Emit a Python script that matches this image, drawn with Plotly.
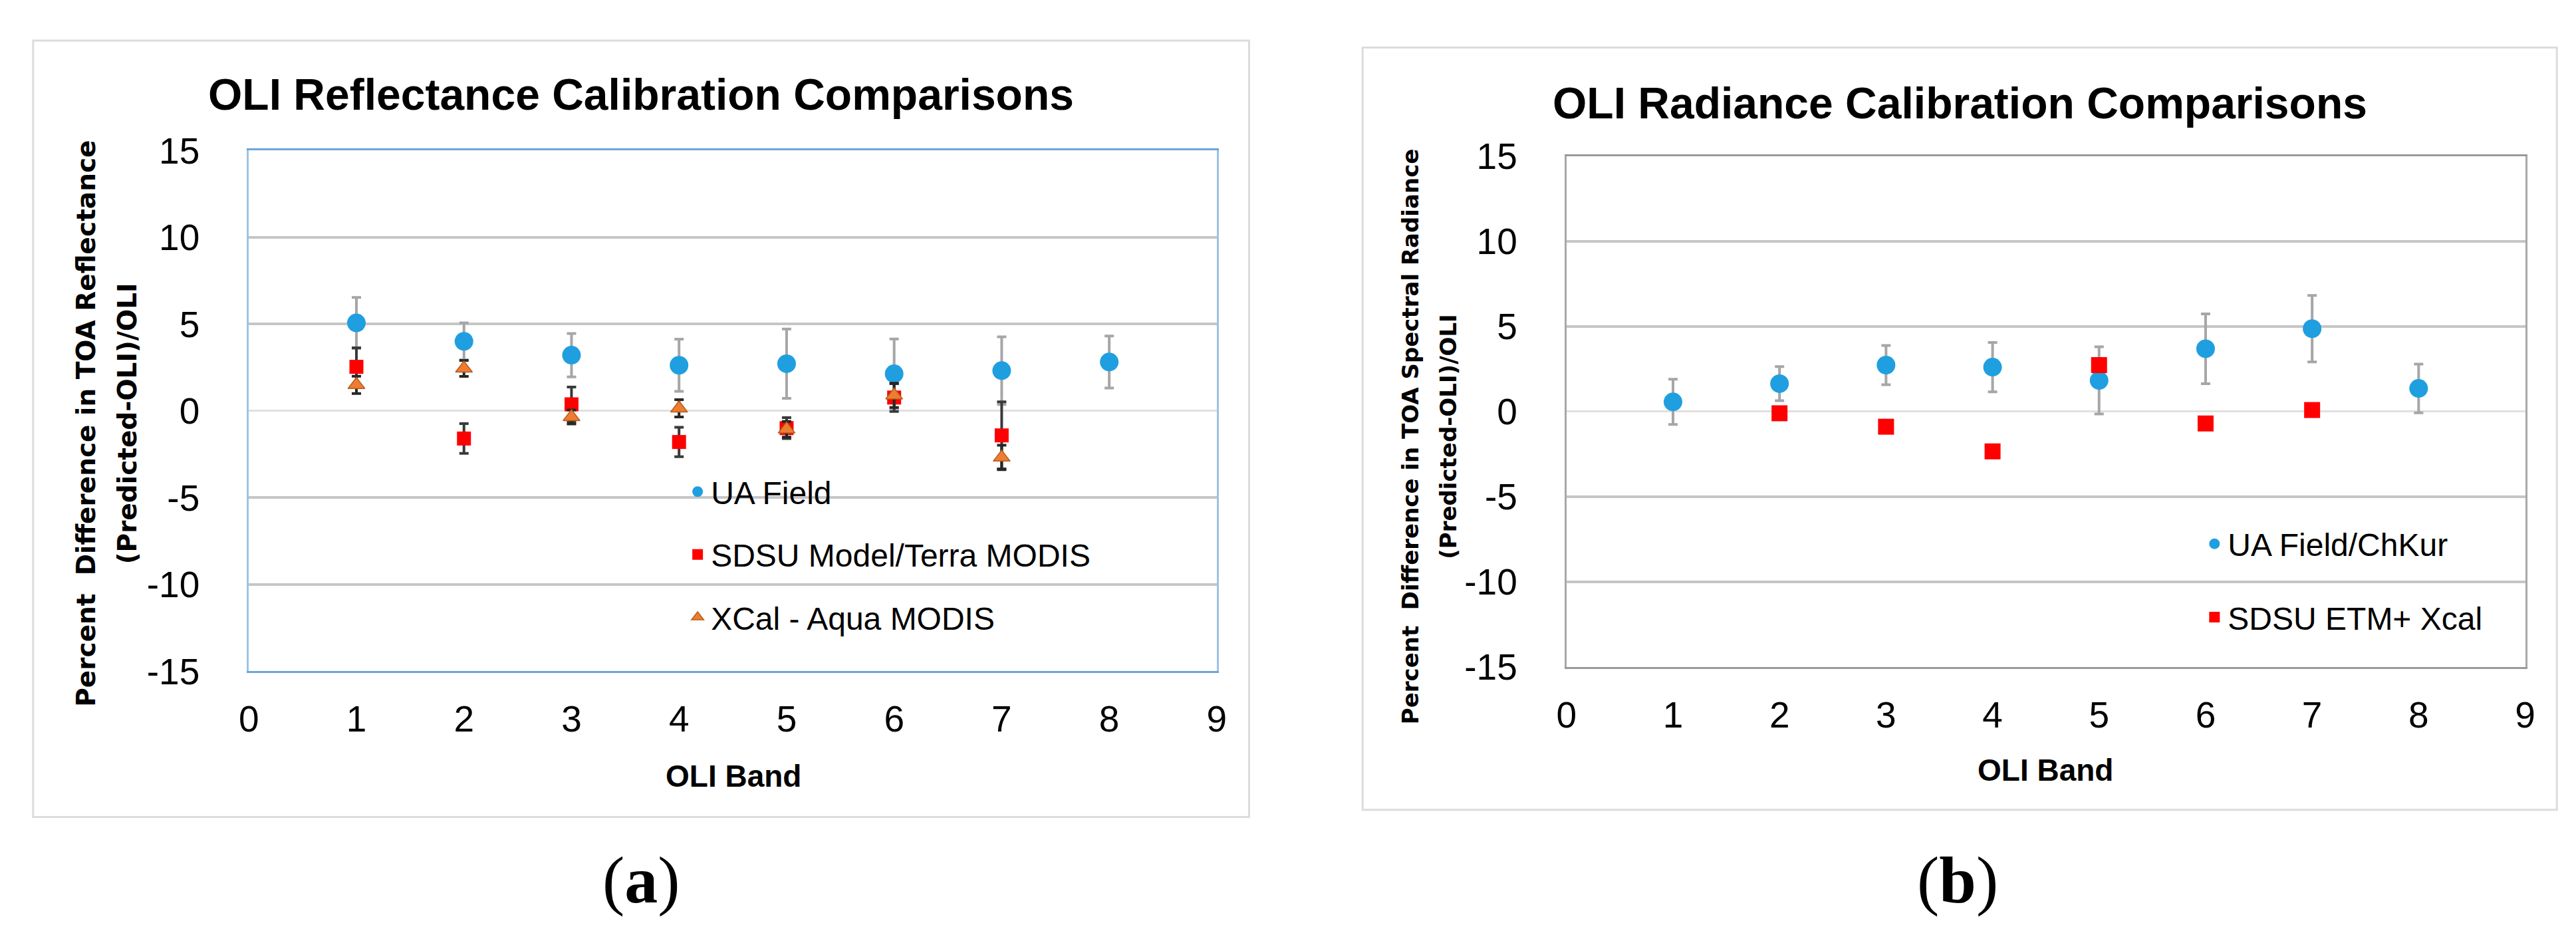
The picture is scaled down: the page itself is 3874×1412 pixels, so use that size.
import plotly.graph_objects as go

W, H = 3874, 1412

# OLI bands
bands = [1, 2, 3, 4, 5, 6, 7, 8]
bands_refl_other = [1, 2, 3, 4, 5, 6, 7]
bands_rad_sdsu = [2, 3, 4, 5, 6, 7]

# (a) reflectance comparisons, percent difference
ua_refl = [5.07, 4.01, 3.21, 2.63, 2.72, 2.14, 2.32, 2.82]
ua_refl_err = [1.47, 1.06, 1.25, 1.5, 2.0, 2.0, 1.95, 1.5]
sdsu_refl = [2.54, -1.59, 0.38, -1.79, -0.99, 0.77, -1.41]
sdsu_refl_err = [1.1, 0.86, 1.0, 0.85, 0.6, 0.8, 1.93]
xcal_refl = [1.5, 2.45, -0.35, 0.15, -1.06, 0.9, -2.68]
xcal_refl_err = [0.5, 0.46, 0.4, 0.5, 0.45, 0.7, 0.7]

# (b) radiance comparisons, percent difference
ua_rad = [0.57, 1.64, 2.73, 2.61, 1.83, 3.69, 4.87, 1.36]
ua_rad_err = [1.33, 1.0, 1.15, 1.45, 1.97, 2.05, 1.95, 1.43]
sdsu_rad = [-0.1, -0.89, -2.34, 2.73, -0.7, 0.09]

x_ticks = list(range(0, 10))
y_ticks = [-15, -10, -5, 0, 5, 10, 15]
y_tick_text = ["-15", "-10", "-5", "0", "5", "10", "15"]

SANS = "Liberation Sans, Arial, sans-serif"
VERD = "DejaVu Sans, Verdana, sans-serif"
SERIF = "Liberation Serif, Times New Roman, serif"
BLUE = "#1f9fe0"
RED = "#ff0000"
ORANGE = "#ed7d31"


def px(x):
    return x / W


def py(y):
    return 1 - y / H


fig = go.Figure()

# left panel
fig.add_trace(go.Scatter(x=bands, y=ua_refl, mode="markers", name="UA Field",
                         legend="legend", legendgroup="a1",
                         marker=dict(symbol="circle", size=28, color=BLUE),
                         error_y=dict(type="data", array=ua_refl_err, color="#a6a6a6", thickness=4, width=7),
                         xaxis="x", yaxis="y"))
fig.add_trace(go.Scatter(x=bands_refl_other, y=sdsu_refl, mode="markers", name="SDSU Model/Terra MODIS",
                         legend="legend", legendgroup="a2",
                         marker=dict(symbol="square", size=21, color=RED),
                         error_y=dict(type="data", array=sdsu_refl_err, color="#3a3a3a", thickness=4, width=7),
                         xaxis="x", yaxis="y"))
fig.add_trace(go.Scatter(x=bands_refl_other, y=xcal_refl, mode="markers", name="XCal - Aqua MODIS",
                         legend="legend", legendgroup="a3",
                         marker=dict(symbol="triangle-up", size=22, color=ORANGE,
                                     line=dict(color="#b85b1c", width=1.5)),
                         error_y=dict(type="data", array=xcal_refl_err, color="#262626", thickness=4, width=7),
                         xaxis="x", yaxis="y"))

# right panel
fig.add_trace(go.Scatter(x=bands, y=ua_rad, mode="markers", name="UA Field/ChKur",
                         legend="legend2", legendgroup="b1",
                         marker=dict(symbol="circle", size=28, color=BLUE),
                         error_y=dict(type="data", array=ua_rad_err, color="#a6a6a6", thickness=4, width=7),
                         xaxis="x2", yaxis="y2"))
fig.add_trace(go.Scatter(x=bands_rad_sdsu, y=sdsu_rad, mode="markers", name="SDSU ETM+ Xcal",
                         legend="legend2", legendgroup="b2",
                         marker=dict(symbol="square", size=24, color=RED),
                         xaxis="x2", yaxis="y2"))

tickfont = dict(family=SANS, size=55, color="black")


def xax(domain, linecolor, anchor):
    return dict(domain=domain, anchor=anchor, range=[0, 9], tickvals=x_ticks,
                showgrid=False, zeroline=False, showline=True, mirror=True,
                linecolor=linecolor, linewidth=3, ticks="", ticklabelstandoff=22,
                tickfont=tickfont, fixedrange=True)


def yax(domain, linecolor, anchor):
    return dict(domain=domain, anchor=anchor, range=[-15, 15],
                tickvals=y_ticks, ticktext=y_tick_text,
                showgrid=True, gridcolor="#c6c6c6", gridwidth=4,
                zeroline=True, zerolinecolor="#e0e0e0", zerolinewidth=3,
                showline=True, mirror=True, linecolor=linecolor, linewidth=3,
                ticks="", ticklabelstandoff=60, tickfont=tickfont, fixedrange=True)


frames = [(27, 23, 1870, 1244), (2042, 34, 3852, 1233)]
shapes = [dict(type="rect", xref="paper", yref="paper",
               x0=px(a), x1=px(c), y0=py(d), y1=py(b),
               line=dict(color="#dcdcdc", width=3), fillcolor="rgba(0,0,0,0)", layer="below")
          for a, b, c, d in frames]

annotations = []


def label(text, x, y, size, family=SANS, weight="normal", angle=0):
    annotations.append(dict(text=text, x=px(x), y=py(y), xref="paper", yref="paper",
                            xanchor="center", yanchor="middle", showarrow=False, textangle=angle,
                            font=dict(family=family, size=size, color="black", weight=weight)))


label("OLI Reflectance Calibration Comparisons", 948, 108, 66, weight="bold")
label("OLI Radiance Calibration Comparisons", 2947, 121, 66, weight="bold")
label("OLI Band", 1088, 1180, 46, weight="bold")
label("OLI Band", 3077, 1170, 46, weight="bold")
label("Percent  Difference in TOA Reflectance", 107, 625, 39, family=VERD, weight="bold", angle=-90)
label("(Predicted-OLI)/OLI", 170, 625, 39, family=VERD, weight="bold", angle=-90)
label("Percent  Difference in TOA Spectral Radiance", 2114, 646, 34, family=VERD, weight="bold", angle=-90)
label("(Predicted-OLI)/OLI", 2171, 646, 34, family=VERD, weight="bold", angle=-90)
label("(<b>a</b>)", 949, 1343, 100, family=SERIF)
label("(<b>b</b>)", 2944, 1343, 100, family=SERIF)

legend_font = dict(family=SANS, size=48, color="black")

fig.update_layout(
    width=W, height=H,
    margin=dict(l=0, r=0, t=0, b=0),
    paper_bgcolor="white", plot_bgcolor="white",
    xaxis=xax([px(354), px(1821)], "#6aa6da", "y"),
    yaxis=yax([py(1015), py(196)], "#9cc3e4", "x"),
    xaxis2=xax([px(2351), px(3804)], "#9a9a9a", "y2"),
    yaxis2=yax([py(1008), py(205)], "#a8a8a8", "x2"),
    showlegend=True,
    legend=dict(x=px(1014), y=py(693), xanchor="left", yanchor="top", font=legend_font,
                bgcolor="rgba(0,0,0,0)", traceorder="grouped", tracegroupgap=29),
    legend2=dict(x=px(3313), y=py(775), xanchor="left", yanchor="top", font=legend_font,
                 bgcolor="rgba(0,0,0,0)", traceorder="grouped", tracegroupgap=45),
    shapes=shapes,
    annotations=annotations,
)

fig.write_html("out.html")
